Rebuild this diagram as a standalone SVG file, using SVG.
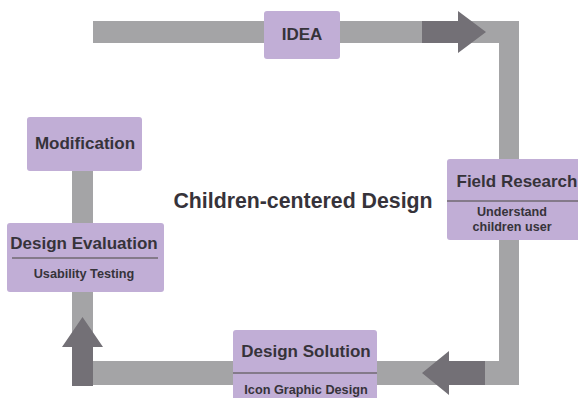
<svg xmlns="http://www.w3.org/2000/svg" width="578" height="398" viewBox="0 0 578 398">
  <style>
    .bar { fill: #a4a4a6; }
    .arrow { fill: #737076; }
    .box { fill: #c1aed6; }
    .sep { stroke: #6f6870; stroke-width: 1.5; }
    text { font-family: "Liberation Sans", Arial, Helvetica, sans-serif; font-weight: bold; fill: #36333a; text-anchor: middle; }
    .title { font-size: 17px; }
    .sub { font-size: 12.7px; }
    .sub2 { font-size: 12.6px; }
    .center { font-size: 21.3px; }
  </style>
  <rect width="578" height="398" fill="#ffffff"/>

  <!-- process loop: grey track with direction arrows -->
  <g id="connectors">
    <rect class="bar" x="93" y="21" width="426" height="22"/>
    <rect class="bar" x="499" y="21" width="20" height="364"/>
    <rect class="bar" x="72" y="361" width="447" height="24"/>
    <rect class="bar" x="72" y="171" width="21" height="214"/>
    <polygon class="arrow" points="422,21 458,21 458,11 486,32 458,53 458,43 422,43"/>
    <polygon class="arrow" points="485,361 449,361 449,351 422,373 449,395 449,385 485,385"/>
    <polygon class="arrow" points="72,386 72,347 62,347 82.5,317 103,347 93,347 93,386"/>
  </g>

  <text class="center" x="303" y="208">Children-centered Design</text>

  <g id="idea">
    <rect class="box" x="264" y="11" width="76" height="48" rx="3"/>
    <text class="title" x="302" y="40">IDEA</text>
  </g>

  <g id="field-research">
    <rect class="box" x="447" y="159" width="140" height="81" rx="3"/>
    <line class="sep" x1="447" y1="201" x2="578" y2="201"/>
    <text class="title" x="517" y="187">Field Research</text>
    <text class="sub2" x="512" y="216">Understand</text>
    <text class="sub2" x="512" y="230.6">children user</text>
  </g>

  <g id="design-solution">
    <rect class="box" x="233" y="330" width="144" height="80" rx="3"/>
    <line class="sep" x1="233" y1="373" x2="377" y2="373"/>
    <text class="title" x="306" y="357">Design Solution</text>
    <text class="sub" x="306" y="394">Icon Graphic Design</text>
  </g>

  <g id="design-evaluation">
    <rect class="box" x="7" y="223" width="157" height="69" rx="3"/>
    <line class="sep" x1="12" y1="258" x2="158" y2="258"/>
    <text class="title" x="84" y="249">Design Evaluation</text>
    <text class="sub" x="84" y="278">Usability Testing</text>
  </g>

  <g id="modification">
    <rect class="box" x="27" y="117" width="115" height="54" rx="3"/>
    <text class="title" x="85" y="149">Modification</text>
  </g>
</svg>
